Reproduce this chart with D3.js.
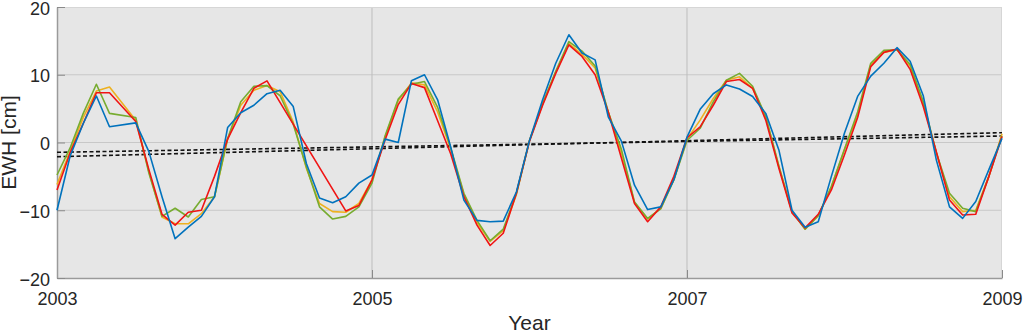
<!DOCTYPE html>
<html><head><meta charset="utf-8">
<script src="https://cdn.jsdelivr.net/npm/d3@7"></script>
<style>html,body{margin:0;padding:0;background:#fff;}svg{display:block;font-family:"Liberation Sans",Arial,sans-serif;}</style>
</head><body><svg id="c" width="1023" height="332"></svg>
<script>
const startYear = 2003;
const xTicks = [2003, 2005, 2007, 2009];
const yTicks = [-20, -10, 0, 10, 20];
const seriesNames = ["yellow", "green", "red", "blue"];
const seriesColors = ["#EDB120", "#77AC30", "#F01414", "#0072BD"];
const yellow = [-6.2,-1.3,3.7,7.6,8.2,null,3.3,-4.3,-11,-12,-12,-10.5,-8,
 0.5,5.5,7.7,8.4,7.5,3.0,-3.8,-9.0,-10.2,-10.3,-9.0,-5.5,
 0.8,6.2,8.8,8.5,4.5,-1.0,-7.7,-11.8,-14.6,-13.0,-7.7,0.3,
 5.8,10.4,14.6,13.0,11.0,4.5,-1.5,-8.8,-11.3,-9.7,-5.5,0.5,
 3.3,6.5,9.2,9.7,8.0,3.8,-3.5,-10.2,-12.8,-10.8,-6.5,-1.0,
 4.0,11.5,13.3,13.7,11.3,5.8,-1.5,-8.0,-10.2,-10.0,-5.0,1.3];
const green = [-4.8,-0.8,4.3,8.6,4.3,null,3.7,-4.5,-10.9,-9.7,-11,-8.4,-8.0,
 0.6,6.0,8.3,8.4,6.9,2.7,-3.6,-9.5,-11.3,-10.9,-9.5,-6.0,
 1.0,6.4,8.6,9.0,5.2,-0.8,-7.5,-11.5,-14.5,-12.8,-7.5,0.3,
 5.7,10.5,14.9,13.5,11.3,4.5,-1.0,-8.8,-11.2,-9.8,-5.5,0.3,
 2.1,6.0,9.2,10.2,8.3,3.8,-3.5,-10.2,-12.8,-10.8,-6.5,-1.0,
 4.5,11.7,13.6,13.7,11.5,6.0,-1.5,-7.5,-9.7,-10.2,-5.0,1.0];
const red = [-7,-1.5,2.8,7.35,7.35,null,3.1,-4,-10.6,-12.2,-10.3,-10,-5,
 0.5,4.4,8.0,9.1,null,null,null,null,null,-10.1,-9.3,-5.5,
 0.4,5.6,8.7,8.1,3.2,-1.7,-8,-12.2,-15.2,-13.4,-7.5,0.2,
 5.5,10.2,14.4,12.7,10.0,4.5,-2.3,-9,-11.7,-9.5,-5,0.7,
 2.3,5.5,9.0,9.3,8.0,3.3,-3.8,-10.4,-12.6,-10.6,-7.0,-1.8,
 3.7,11.2,13.3,13.8,10.8,5.3,-1.4,-8.5,-10.7,-10.6,-5.0,0.9];
const blue = [-10,-2,2.8,6.86,2.33,null,2.9,-1.35,-8,-14.2,-12.5,-10.9,-8.0,
 2.2,4.4,5.5,7.2,7.7,5.3,-3.1,-8.2,-8.9,-8.0,-6.0,-4.8,
 0.5,0.0,9.1,10.0,6.3,-0.7,-8.5,-11.5,-11.7,-11.6,-7.3,0.3,
 6.3,11.7,15.9,13.2,12.2,3.8,0.2,-6.3,-9.9,-9.5,-5.5,0.8,
 4.9,7.2,8.5,7.9,6.8,4.3,-1.1,-10.0,-12.5,-11.7,-5.0,1.4,
 6.8,9.8,11.7,14.0,12.0,6.9,-2.6,-9.5,-11.2,-8.7,-4.0,0.6];
const trendYears = [2003, 2009];
const trendA = [-2.1, 1.45];
const trendB = [-1.45, 0.96];

const svg = d3.select("#c");
const m = {l:57, r:1002, t:7, b:278};
const x = d3.scaleLinear().domain([2003, 2009]).range([m.l, m.r]);
const y = d3.scaleLinear().domain([-20, 20]).range([m.b, m.t]);

svg.append("rect").attr("x", m.l).attr("y", m.t).attr("width", m.r - m.l).attr("height", m.b - m.t).attr("fill", "#e6e6e6");

// grid
const g = svg.append("g");
g.selectAll("line.h").data(yTicks.filter(v => v > -20 && v < 20)).join("line")
  .attr("x1", m.l).attr("x2", m.r).attr("y1", d => y(d)).attr("y2", d => y(d))
  .attr("stroke", "#c8c8c8").attr("stroke-width", 1);
g.selectAll("line.v").data(xTicks.filter(v => v > 2003 && v < 2009)).join("line")
  .attr("y1", m.t).attr("y2", m.b).attr("x1", d => x(d)).attr("x2", d => x(d))
  .attr("stroke", "#bdbdbd").attr("stroke-width", 1);

// box
svg.append("line").attr("x1", m.l).attr("x2", m.r).attr("y1", m.t + 0.5).attr("y2", m.t + 0.5).attr("stroke", "#d6d6d6");
svg.append("line").attr("x1", m.r - 0.5).attr("x2", m.r - 0.5).attr("y1", m.t).attr("y2", m.b).attr("stroke", "#d6d6d6");

// axes
const xAxis = d3.axisBottom(x).tickValues(xTicks).tickFormat(d3.format("d")).tickSizeInner(-8).tickSizeOuter(0).tickPadding(14);
const yAxis = d3.axisLeft(y).tickValues(yTicks).tickFormat(d3.format("d")).tickSizeInner(-8).tickSizeOuter(0).tickPadding(7);
const xa = svg.append("g").attr("transform", `translate(0,${m.b})`).call(xAxis);
const ya = svg.append("g").attr("transform", `translate(${m.l},0)`).call(yAxis);
[xa, ya].forEach(a => {
  a.select(".domain").attr("stroke", "#9a9a9a").attr("stroke-width", 1.5);
  a.selectAll(".tick line").attr("stroke", "#8a8a8a");
  a.selectAll(".tick text").attr("fill", "#262626").attr("font-size", 18).attr("font-family", "Liberation Sans, Arial, sans-serif");
});
ya.selectAll(".tick text").attr("dy", "0.4em");

// trends
const trendLine = d3.line().x((d, i) => x(trendYears[i])).y(d => y(d));
[trendA, trendB].forEach(t => {
  svg.append("path").attr("d", trendLine(t)).attr("fill", "none")
    .attr("stroke", "#111").attr("stroke-width", 1.6).attr("stroke-dasharray", "4,2.5");
});

// series
const all = [yellow, green, red, blue];
const line = d3.line().x(d => x(d.t)).y(d => y(d.v));
all.forEach((s, si) => {
  const pts = s.map((v, i) => ({t: startYear + i / 12, v})).filter(d => d.v !== null);
  svg.append("path").attr("d", line(pts)).attr("fill", "none")
    .attr("stroke", seriesColors[si]).attr("stroke-width", 1.6).attr("stroke-linejoin", "round");
});

// labels
svg.append("text").attr("x", (m.l + m.r) / 2).attr("y", 330).attr("text-anchor", "middle")
  .attr("font-size", 21).attr("fill", "#262626").text("Year");
svg.append("text").attr("transform", `translate(16,${(m.t + m.b) / 2}) rotate(-90)`).attr("text-anchor", "middle")
  .attr("font-size", 21).attr("fill", "#262626").text("EWH [cm]");
</script></body></html>
